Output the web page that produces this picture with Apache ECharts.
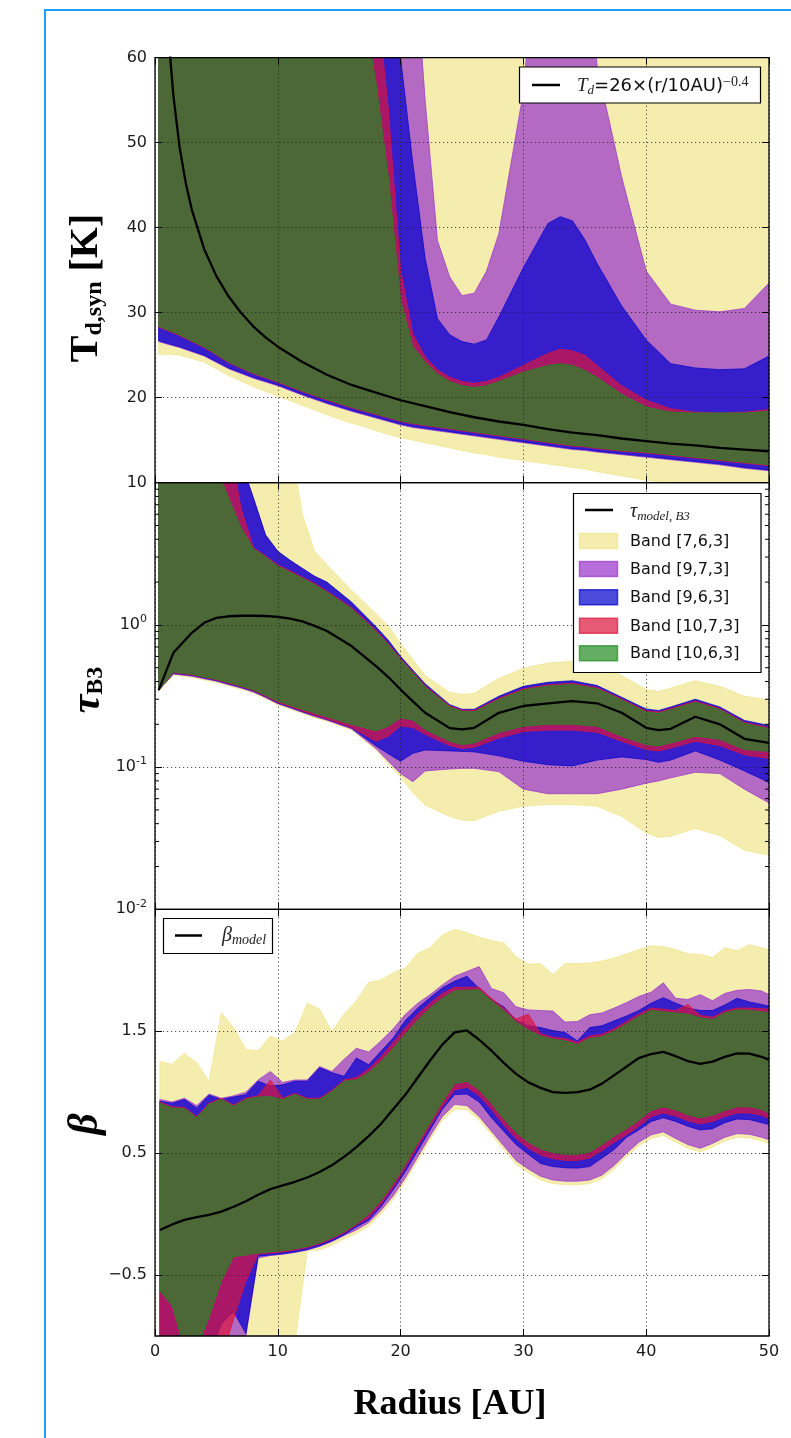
<!DOCTYPE html>
<html>
<head>
<meta charset="utf-8">
<script src="https://cdn.jsdelivr.net/npm/echarts@6.0.0/dist/echarts.min.js"></script>
<style>
  html, body { margin: 0; padding: 0; background: #fff; }
  #chart { width: 791px; height: 1438px; }
</style>
</head>
<body>
<div id="chart"></div>
<script>
// ---------------- Panel 1: synthetic dust temperature T_d,syn [K] ----------------
const R_T = [0.3, 1, 2, 4, 6, 8, 10, 12, 14, 16, 17, 18, 19, 20, 21, 22, 23, 24, 25, 26, 27, 28, 30, 32, 33, 34, 35, 36, 38, 40, 42, 44, 46, 48, 50];
const T_Y_HI = [90, 90, 90, 90, 90, 90, 90, 90, 90, 90, 90, 90, 90, 90, 90, 90, 90, 90, 90, 90, 90, 90, 90, 90, 90, 90, 90, 90, 90, 90, 90, 90, 90, 90, 90];
const T_Y_LO = [25.1, 25.1, 25.0, 24.2, 22.6, 21.3, 20.2, 19.1, 18.0, 17.0, 16.6, 16.1, 15.7, 15.3, 15.0, 14.7, 14.4, 14.1, 13.8, 13.5, 13.3, 13.0, 12.6, 12.2, 12.0, 11.8, 11.6, 11.3, 10.8, 10.3, 9.9, 9.6, 9.3, 9.1, 8.9];
const T_P_HI = [90, 90, 90, 90, 90, 90, 90, 90, 90, 90, 90, 90, 90, 90, 75, 55, 38.5, 34.2, 32.0, 32.3, 34.9, 39.3, 56, 90, 90, 90, 78, 59, 46, 34.9, 31.0, 30.3, 30.1, 30.5, 33.5];
const T_P_LO = [26.6, 26.3, 25.9, 24.9, 23.4, 22.3, 21.4, 20.3, 19.3, 18.4, 18.0, 17.6, 17.2, 16.8, 16.5, 16.3, 16.1, 15.9, 15.7, 15.5, 15.3, 15.1, 14.7, 14.3, 14.1, 13.9, 13.8, 13.6, 13.3, 13.0, 12.7, 12.4, 12.1, 11.7, 11.4];
const T_B_HI = [90, 90, 90, 90, 90, 90, 90, 90, 90, 90, 90, 90, 80, 60, 47.5, 36.4, 29.3, 27.4, 26.6, 26.3, 26.8, 29.5, 35.3, 40.5, 41.3, 40.8, 38.6, 35.8, 30.8, 26.8, 24.0, 23.5, 23.3, 23.4, 24.9];
const T_B_LO = [26.7, 26.4, 26.0, 25.0, 23.5, 22.4, 21.5, 20.4, 19.4, 18.5, 18.1, 17.7, 17.3, 16.9, 16.6, 16.4, 16.2, 16.0, 15.8, 15.6, 15.4, 15.2, 14.8, 14.4, 14.2, 14.0, 13.9, 13.7, 13.4, 13.1, 12.8, 12.5, 12.2, 11.8, 11.5];
const T_R_HI = [90, 90, 90, 90, 90, 90, 90, 90, 90, 90, 85, 68, 54, 35, 27.5, 24.8, 23.3, 22.4, 21.9, 21.7, 21.9, 22.4, 23.8, 25.2, 25.7, 25.5, 25.0, 23.8, 21.4, 19.7, 18.7, 18.3, 18.2, 18.3, 18.6];
const T_R_LO = [28.3, 27.9, 27.3, 25.9, 24.1, 22.8, 21.8, 20.7, 19.7, 18.8, 18.4, 18.0, 17.6, 17.2, 16.9, 16.7, 16.5, 16.3, 16.1, 15.9, 15.7, 15.5, 15.1, 14.7, 14.5, 14.3, 14.2, 14.0, 13.7, 13.5, 13.2, 12.9, 12.6, 12.3, 12.0];
const T_G_HI = [90, 90, 90, 90, 90, 90, 90, 90, 90, 80, 66, 57, 46, 31.5, 26.0, 24.2, 22.8, 21.9, 21.4, 21.2, 21.4, 21.9, 23.0, 23.8, 24.0, 23.8, 23.2, 22.4, 20.4, 18.9, 18.3, 18.2, 18.2, 18.2, 18.4];
const T_G_LO = [28.4, 28.0, 27.4, 26.0, 24.2, 22.9, 21.9, 20.8, 19.8, 18.9, 18.5, 18.1, 17.7, 17.3, 17.0, 16.8, 16.6, 16.4, 16.2, 16.0, 15.8, 15.6, 15.2, 14.8, 14.6, 14.4, 14.3, 14.1, 13.8, 13.6, 13.3, 13.0, 12.7, 12.4, 12.1];
// power-law reference profile
const R_TM = [1.0, 1.2, 1.5, 2, 2.5, 3, 4, 5, 6, 7, 8, 9, 10, 12, 14, 16, 18, 20, 22, 24, 26, 28, 30, 32, 34, 36, 38, 40, 42, 44, 46, 48, 50];
const T_MODEL = [65.3, 60.7, 55.5, 49.5, 45.3, 42.1, 37.5, 34.3, 31.9, 30.0, 28.4, 27.1, 26.0, 24.2, 22.7, 21.5, 20.6, 19.7, 19.0, 18.3, 17.7, 17.2, 16.8, 16.3, 15.9, 15.6, 15.2, 14.9, 14.6, 14.4, 14.1, 13.9, 13.7];

// ---------------- Panel 2: optical depth at Band 3 ----------------
const R_TAU = [0.3, 1.5, 3, 4, 5, 6, 7, 8, 9, 10, 11, 12, 13, 14, 16, 18, 19, 20, 21, 22, 24, 25, 26, 28, 30, 32, 34, 36, 38, 40, 41, 42, 44, 46, 48, 50];
const TAU_Y_HI = [20, 20, 20, 20, 20, 20, 20, 20, 20, 20, 20, 6.0, 3.3, 2.65, 1.75, 1.2, 0.98, 0.74, 0.57, 0.44, 0.335, 0.324, 0.33, 0.42, 0.495, 0.54, 0.555, 0.53, 0.44, 0.352, 0.34, 0.36, 0.405, 0.37, 0.315, 0.296];
const TAU_Y_LO = [0.341, 0.442, 0.427, 0.41, 0.394, 0.372, 0.353, 0.331, 0.303, 0.273, 0.256, 0.238, 0.222, 0.21, 0.182, 0.132, 0.105, 0.085, 0.066, 0.054, 0.045, 0.0425, 0.042, 0.049, 0.053, 0.0546, 0.0546, 0.053, 0.045, 0.0345, 0.032, 0.0326, 0.037, 0.033, 0.026, 0.024];
const TAU_P_HI = [20, 20, 20, 20, 20, 20, 13.9, 7.8, 4.25, 3.27, 2.82, 2.47, 2.18, 1.98, 1.43, 0.96, 0.77, 0.594, 0.475, 0.381, 0.272, 0.252, 0.252, 0.312, 0.366, 0.391, 0.4, 0.371, 0.307, 0.253, 0.247, 0.262, 0.297, 0.262, 0.211, 0.194];
const TAU_P_LO = [0.348, 0.451, 0.436, 0.418, 0.402, 0.38, 0.36, 0.338, 0.309, 0.279, 0.261, 0.243, 0.227, 0.214, 0.186, 0.135, 0.11, 0.09, 0.079, 0.094, 0.097, 0.098, 0.098, 0.093, 0.07, 0.065, 0.065, 0.065, 0.07, 0.077, 0.08, 0.084, 0.092, 0.09, 0.07, 0.056];
const TAU_B_HI = [20, 20, 20, 20, 20, 20, 14, 7.9, 4.3, 3.3, 2.85, 2.5, 2.2, 2.0, 1.45, 0.97, 0.78, 0.6, 0.48, 0.385, 0.275, 0.255, 0.255, 0.315, 0.37, 0.395, 0.405, 0.375, 0.31, 0.256, 0.25, 0.265, 0.3, 0.265, 0.213, 0.196];
const TAU_B_LO = [0.348, 0.456, 0.441, 0.423, 0.406, 0.384, 0.364, 0.342, 0.312, 0.282, 0.263, 0.245, 0.23, 0.216, 0.188, 0.141, 0.124, 0.11, 0.125, 0.132, 0.13, 0.129, 0.128, 0.12, 0.11, 0.104, 0.102, 0.112, 0.118, 0.113, 0.108, 0.112, 0.13, 0.112, 0.094, 0.078];
const TAU_R_HI = [20, 20, 20, 20, 20, 20, 6.7, 3.5, 3.06, 2.64, 2.4, 2.17, 1.96, 1.73, 1.33, 0.92, 0.74, 0.582, 0.469, 0.374, 0.27, 0.251, 0.25, 0.305, 0.355, 0.379, 0.389, 0.363, 0.302, 0.249, 0.244, 0.258, 0.292, 0.258, 0.207, 0.19];
const TAU_R_LO = [0.348, 0.46, 0.445, 0.427, 0.41, 0.388, 0.368, 0.345, 0.315, 0.285, 0.266, 0.248, 0.232, 0.218, 0.19, 0.152, 0.165, 0.195, 0.19, 0.17, 0.142, 0.135, 0.138, 0.16, 0.178, 0.182, 0.182, 0.176, 0.152, 0.133, 0.13, 0.136, 0.152, 0.142, 0.122, 0.115];
const TAU_G_HI = [20, 20, 20, 20, 13, 7.8, 4.85, 3.45, 3.0, 2.59, 2.35, 2.13, 1.92, 1.70, 1.30, 0.90, 0.724, 0.571, 0.46, 0.367, 0.265, 0.246, 0.245, 0.299, 0.348, 0.372, 0.381, 0.356, 0.296, 0.244, 0.239, 0.253, 0.286, 0.253, 0.203, 0.186];
const TAU_G_LO = [0.348, 0.466, 0.449, 0.43, 0.414, 0.393, 0.372, 0.35, 0.32, 0.291, 0.272, 0.255, 0.24, 0.226, 0.2, 0.18, 0.194, 0.222, 0.214, 0.184, 0.152, 0.144, 0.148, 0.175, 0.194, 0.2, 0.2, 0.194, 0.165, 0.144, 0.141, 0.148, 0.165, 0.157, 0.133, 0.129];
const TAU_MODEL = [0.348, 0.637, 0.88, 1.035, 1.12, 1.15, 1.16, 1.16, 1.155, 1.14, 1.105, 1.06, 0.985, 0.906, 0.71, 0.513, 0.43, 0.351, 0.29, 0.241, 0.188, 0.184, 0.189, 0.241, 0.269, 0.281, 0.291, 0.281, 0.241, 0.189, 0.182, 0.186, 0.226, 0.2, 0.158, 0.148];
// minor tick positions of the logarithmic axis
const TAU_MINOR_TICKS = [0.02, 0.03, 0.04, 0.05, 0.06, 0.07, 0.08, 0.09, 0.2, 0.3, 0.4, 0.5, 0.6, 0.7, 0.8, 0.9, 2, 3, 4, 5, 6, 7, 8, 9];

// ---------------- Panel 3: dust opacity index beta ----------------
const R_BETA = [0.4, 1.4, 2.4, 3.4, 4.4, 5.4, 6.4, 7.4, 8.4, 9.4, 10.4, 11.4, 12.4, 13.4, 14.4, 15.4, 16.4, 17.4, 18.4, 19.4, 20.4, 21.4, 22.4, 23.4, 24.4, 25.4, 26.4, 27.4, 28.4, 29.4, 30.4, 31.4, 32.4, 33.4, 34.4, 35.4, 36.4, 37.4, 38.4, 39.4, 40.4, 41.4, 42.4, 43.4, 44.4, 45.4, 46.4, 47.4, 48.4, 49.4, 50];
const BETA_Y_HI = [1.25, 1.23, 1.32, 1.24, 1.09, 1.65, 1.53, 1.35, 1.34, 1.46, 1.42, 1.49, 1.73, 1.68, 1.50, 1.64, 1.75, 1.90, 1.92, 1.98, 2.02, 2.14, 2.185, 2.29, 2.335, 2.31, 2.27, 2.245, 2.225, 2.11, 2.05, 2.055, 1.965, 2.055, 2.055, 2.06, 2.075, 2.10, 2.135, 2.17, 2.20, 2.195, 2.17, 2.135, 2.13, 2.105, 2.185, 2.16, 2.21, 2.185, 2.17];
const BETA_Y_LO = [-3, -3, -3, -3, -3, -3, -3, -3, -3, -3, -3, -1.05, -0.30, -0.295, -0.255, -0.205, -0.16, -0.10, 0.0, 0.12, 0.27, 0.44, 0.61, 0.77, 0.86, 0.855, 0.77, 0.65, 0.53, 0.41, 0.34, 0.28, 0.25, 0.24, 0.24, 0.25, 0.29, 0.37, 0.47, 0.56, 0.62, 0.645, 0.59, 0.54, 0.51, 0.55, 0.60, 0.63, 0.625, 0.60, 0.58];
const BETA_P_HI = [0.94, 0.92, 0.95, 0.89, 0.985, 0.95, 0.97, 1.0, 1.10, 1.17, 1.08, 1.10, 1.10, 1.21, 1.17, 1.27, 1.36, 1.33, 1.42, 1.52, 1.64, 1.73, 1.80, 1.88, 1.95, 1.99, 2.03, 1.85, 1.815, 1.70, 1.675, 1.67, 1.665, 1.575, 1.58, 1.635, 1.65, 1.69, 1.735, 1.785, 1.82, 1.897, 1.77, 1.76, 1.80, 1.75, 1.81, 1.835, 1.842, 1.83, 1.80];
const BETA_P_LO = [-1.5, -1.5, -1.5, -1.5, -1.5, -1.5, -1.5, -1.0, -0.36, -0.34, -0.33, -0.315, -0.295, -0.265, -0.225, -0.175, -0.13, -0.07, 0.03, 0.15, 0.30, 0.47, 0.64, 0.80, 0.90, 0.89, 0.80, 0.68, 0.56, 0.44, 0.37, 0.31, 0.28, 0.27, 0.27, 0.28, 0.32, 0.40, 0.50, 0.59, 0.65, 0.675, 0.62, 0.57, 0.54, 0.58, 0.63, 0.66, 0.655, 0.63, 0.61];
const BETA_B_HI = [0.925, 0.91, 0.94, 0.87, 0.975, 0.94, 0.96, 0.98, 1.09, 1.05, 1.06, 1.09, 1.09, 1.20, 1.16, 1.13, 1.28, 1.225, 1.335, 1.445, 1.59, 1.69, 1.775, 1.855, 1.91, 1.95, 1.85, 1.76, 1.70, 1.59, 1.545, 1.53, 1.505, 1.49, 1.42, 1.53, 1.545, 1.585, 1.625, 1.67, 1.73, 1.775, 1.73, 1.69, 1.67, 1.67, 1.715, 1.77, 1.74, 1.72, 1.705];
const BETA_B_LO = [-1.5, -1.5, -1.5, -1.5, -1.2, -0.9, -0.8, -0.98, -0.345, -0.335, -0.325, -0.31, -0.29, -0.26, -0.22, -0.17, -0.105, -0.05, 0.06, 0.20, 0.35, 0.52, 0.69, 0.86, 0.98, 0.985, 0.92, 0.79, 0.68, 0.57, 0.49, 0.415, 0.39, 0.38, 0.377, 0.39, 0.46, 0.53, 0.63, 0.69, 0.76, 0.79, 0.76, 0.72, 0.69, 0.70, 0.75, 0.78, 0.775, 0.75, 0.735];
const BETA_R_HI = [0.92, 0.88, 0.875, 0.80, 0.91, 0.95, 0.895, 0.95, 0.97, 1.10, 0.95, 0.99, 0.95, 0.95, 1.015, 1.10, 1.12, 1.19, 1.29, 1.41, 1.53, 1.64, 1.73, 1.81, 1.86, 1.86, 1.86, 1.77, 1.69, 1.60, 1.64, 1.48, 1.45, 1.44, 1.41, 1.46, 1.475, 1.52, 1.58, 1.64, 1.69, 1.68, 1.67, 1.72, 1.63, 1.615, 1.665, 1.69, 1.69, 1.685, 1.68];
const BETA_R_LO = [-1.5, -1.5, -1.5, -1.5, -1.4, -1.2, -0.86, -0.55, -0.33, -0.32, -0.31, -0.295, -0.275, -0.245, -0.205, -0.155, -0.09, -0.03, 0.08, 0.22, 0.38, 0.555, 0.72, 0.88, 1.02, 1.04, 0.97, 0.86, 0.73, 0.62, 0.54, 0.485, 0.455, 0.44, 0.44, 0.46, 0.52, 0.59, 0.65, 0.72, 0.80, 0.83, 0.805, 0.765, 0.74, 0.76, 0.80, 0.83, 0.83, 0.81, 0.785];
const BETA_G_HI = [0.91, 0.87, 0.865, 0.79, 0.90, 0.94, 0.885, 0.94, 0.96, 0.965, 0.94, 0.98, 0.94, 0.94, 1.005, 1.09, 1.10, 1.16, 1.25, 1.36, 1.48, 1.59, 1.69, 1.77, 1.83, 1.837, 1.84, 1.75, 1.67, 1.575, 1.51, 1.46, 1.435, 1.42, 1.39, 1.44, 1.455, 1.50, 1.56, 1.62, 1.67, 1.66, 1.65, 1.64, 1.61, 1.595, 1.65, 1.675, 1.67, 1.66, 1.65];
const BETA_G_LO = [-0.63, -0.75, -1.1, -1.1, -0.85, -0.55, -0.35, -0.335, -0.32, -0.31, -0.30, -0.285, -0.265, -0.235, -0.195, -0.145, -0.08, 0.0, 0.11, 0.25, 0.41, 0.585, 0.75, 0.92, 1.07, 1.09, 1.02, 0.91, 0.78, 0.67, 0.59, 0.535, 0.505, 0.49, 0.49, 0.51, 0.57, 0.64, 0.70, 0.77, 0.85, 0.88, 0.855, 0.815, 0.79, 0.81, 0.85, 0.88, 0.88, 0.86, 0.83];
const BETA_MODEL = [-0.13, -0.085, -0.048, -0.025, -0.007, 0.02, 0.06, 0.105, 0.158, 0.205, 0.235, 0.265, 0.30, 0.345, 0.40, 0.47, 0.55, 0.64, 0.74, 0.86, 0.98, 1.12, 1.26, 1.39, 1.49, 1.506, 1.43, 1.34, 1.24, 1.15, 1.08, 1.035, 1.0, 0.995, 1.0, 1.02, 1.07, 1.14, 1.21, 1.28, 1.313, 1.33, 1.295, 1.255, 1.232, 1.25, 1.29, 1.318, 1.316, 1.29, 1.267];
const BETA_TICKS = [-0.5, 0.5, 1.5];

// ---------------- Shared ----------------
const X_TICK_LABELS = [0, 10, 20, 30, 40, 50];
const BAND_NAMES = ['Band [7,6,3]', 'Band [9,7,3]', 'Band [9,6,3]', 'Band [10,7,3]', 'Band [10,6,3]'];
const BAND_COLORS = ['rgba(240,230,140,0.7)', 'rgba(153,50,204,0.7)', 'rgba(0,0,205,0.7)', 'rgba(220,20,60,0.7)', 'rgba(34,139,34,0.7)'];

const SANS = '"DejaVu Sans", "Noto Sans", sans-serif';
const SERIF = '"Liberation Serif", "DejaVu Serif", serif';
const PLOT = { left: 155, width: 614 };
const PANELS = [
  { top: 57.7, height: 425 },
  { top: 482.7, height: 426.6 },
  { top: 909.3, height: 426.7 }
];

// filled envelope between a lower and an upper boundary
function band(name, color, xs, lo, hi, gi) {
  return {
    type: 'custom', name: name, xAxisIndex: gi, yAxisIndex: gi,
    clip: true, silent: true, z: 2,
    data: [[xs[0], lo[0]]],
    renderItem: function (params, api) {
      const pts = [];
      for (let i = 0; i < xs.length; i++) pts.push(api.coord([xs[i], hi[i]]));
      for (let i = xs.length - 1; i >= 0; i--) pts.push(api.coord([xs[i], lo[i]]));
      return { type: 'polygon', shape: { points: pts }, style: { fill: color, stroke: color, lineWidth: 1 } };
    }
  };
}
function modelLine(name, xs, ys, gi) {
  return {
    type: 'line', name: name, xAxisIndex: gi, yAxisIndex: gi, clip: true, z: 4,
    symbol: 'none', showSymbol: false, silent: true,
    lineStyle: { color: '#000', width: 2.3 },
    data: xs.map((x, i) => [x, ys[i]])
  };
}

const tickStyle = { color: '#000', width: 1 };
const gridLine = { show: true, lineStyle: { color: '#222', width: 0.8, type: [1.2, 2.8] } };
const labelBase = { fontSize: 16, fontFamily: SANS, color: '#1a1a1a' };
const noLine = { show: false, onZero: false };

function xAxisFor(gi, showLabels) {
  return {
    type: 'value', gridIndex: gi, min: 0, max: 50, interval: 10, position: 'bottom', z: 3,
    axisLine: noLine,
    axisTick: { show: true, inside: true, length: 7, lineStyle: tickStyle },
    axisLabel: Object.assign({ show: showLabels, margin: 8, customValues: X_TICK_LABELS }, labelBase),
    splitLine: gridLine
  };
}
function xTopFor(gi) {
  return {
    type: 'value', gridIndex: gi, min: 0, max: 50, interval: 10, position: 'top', z: 3,
    axisLine: noLine, axisLabel: { show: false }, splitLine: { show: false },
    axisTick: { show: true, inside: true, length: 7, lineStyle: tickStyle }
  };
}

const supRich = { sup: { fontSize: 11, fontFamily: SANS, color: '#1a1a1a', verticalAlign: 'top', lineHeight: 10 } };

const yAxes = [
  {
    type: 'value', gridIndex: 0, min: 10, max: 60, interval: 10, z: 3,
    axisLine: noLine,
    axisTick: { show: true, inside: true, length: 7, lineStyle: tickStyle },
    axisLabel: Object.assign({ margin: 8 }, labelBase),
    splitLine: gridLine
  },
  {
    type: 'log', logBase: 10, gridIndex: 1, min: 0.01, max: 10, z: 3,
    axisLine: noLine,
    axisTick: { show: true, inside: true, length: 7, lineStyle: tickStyle },
    axisLabel: Object.assign({
      margin: 8, lineHeight: 22, rich: supRich,
      formatter: function (v) {
        const e = Math.round(Math.log10(v));
        if (e >= 1) return '';
        return '10{sup|' + e + '}';
      }
    }, labelBase),
    splitLine: gridLine
  },
  {
    type: 'value', gridIndex: 2, min: -1, max: 2.5, z: 3,
    axisLine: noLine,
    axisTick: { show: true, inside: true, length: 7, lineStyle: tickStyle, customValues: BETA_TICKS },
    axisLabel: Object.assign({
      margin: 8, customValues: BETA_TICKS,
      formatter: function (v) { return v < 0 ? '\u2212' + Math.abs(v) : String(v); }
    }, labelBase),
    splitLine: gridLine
  },
  // mirrored ticks on the right-hand spines
  {
    type: 'value', gridIndex: 0, min: 10, max: 60, interval: 10, position: 'right', z: 3,
    axisLine: noLine, axisLabel: { show: false }, splitLine: { show: false },
    axisTick: { show: true, inside: true, length: 7, lineStyle: tickStyle }
  },
  {
    type: 'log', logBase: 10, gridIndex: 1, min: 0.01, max: 10, position: 'right', z: 3,
    axisLine: noLine, axisLabel: { show: false }, splitLine: { show: false },
    axisTick: { show: true, inside: true, length: 7, lineStyle: tickStyle }
  },
  {
    type: 'value', gridIndex: 2, min: -1, max: 2.5, position: 'right', z: 3,
    axisLine: noLine, axisLabel: { show: false, customValues: BETA_TICKS }, splitLine: { show: false },
    axisTick: { show: true, inside: true, length: 7, lineStyle: tickStyle, customValues: BETA_TICKS }
  }
];

const series = [];
const panelBands = [
  [R_T, [[T_Y_LO, T_Y_HI], [T_P_LO, T_P_HI], [T_B_LO, T_B_HI], [T_R_LO, T_R_HI], [T_G_LO, T_G_HI]]],
  [R_TAU, [[TAU_Y_LO, TAU_Y_HI], [TAU_P_LO, TAU_P_HI], [TAU_B_LO, TAU_B_HI], [TAU_R_LO, TAU_R_HI], [TAU_G_LO, TAU_G_HI]]],
  [R_BETA, [[BETA_Y_LO, BETA_Y_HI], [BETA_P_LO, BETA_P_HI], [BETA_B_LO, BETA_B_HI], [BETA_R_LO, BETA_R_HI], [BETA_G_LO, BETA_G_HI]]]
];
panelBands.forEach(function (p, gi) {
  p[1].forEach(function (b, k) {
    series.push(band(BAND_NAMES[k], BAND_COLORS[k], p[0], b[0], b[1], gi));
  });
});
series.push(modelLine('T_d model', R_TM, T_MODEL, 0));
series.push(modelLine('tau model', R_TAU, TAU_MODEL, 1));
series.push(modelLine('beta model', R_BETA, BETA_MODEL, 2));
// minor ticks of the log axis, on both vertical spines
series.push({
  type: 'custom', name: 'minor ticks', xAxisIndex: 1, yAxisIndex: 1, silent: true, z: 5,
  data: TAU_MINOR_TICKS.map(v => [0, v]),
  renderItem: function (params, api) {
    const l = api.coord([0, api.value(1)]);
    const r = api.coord([50, api.value(1)]);
    return {
      type: 'group', children: [
        { type: 'line', shape: { x1: l[0], y1: l[1], x2: l[0] + 4, y2: l[1] }, style: { stroke: '#000', lineWidth: 1 } },
        { type: 'line', shape: { x1: r[0] - 4, y1: r[1], x2: r[0], y2: r[1] }, style: { stroke: '#000', lineWidth: 1 } }
      ]
    };
  }
});

// ---------------- Text, titles, legend boxes ----------------
const mathRich = function (big, small, sans, sup) {
  return {
    it: { font: 'italic ' + big + 'px ' + SERIF, fill: '#222', lineHeight: 22 },
    sub: { font: 'italic ' + small + 'px ' + SERIF, fill: '#222', lineHeight: 12, verticalAlign: 'bottom' },
    n: { font: sans + 'px ' + SANS, fill: '#111', lineHeight: 22 },
    sup: { font: sup + 'px ' + SERIF, fill: '#222', lineHeight: 10, verticalAlign: 'top' }
  };
};
const graphics = [
  { type: 'rect', z: 100, silent: true, shape: { x: 45, y: 10, width: 800, height: 1500 }, style: { fill: 'none', stroke: '#1ba1f2', lineWidth: 2 } },
  // axis titles
  {
    type: 'text', z: 100, x: 87, y: 288, rotation: Math.PI / 2,
    style: {
      text: '{m|T}{s|d,syn}{m| [K]}', align: 'center', verticalAlign: 'middle',
      rich: {
        m: { font: 'bold 40px ' + SERIF, fill: '#000', lineHeight: 40 },
        s: { font: 'bold 24px ' + SERIF, fill: '#000', lineHeight: 14, verticalAlign: 'bottom' }
      }
    }
  },
  {
    type: 'text', z: 100, x: 88, y: 690, rotation: Math.PI / 2,
    style: {
      text: '{m|\u03C4}{s|B3}', align: 'center', verticalAlign: 'middle',
      rich: {
        m: { font: 'bold italic 42px ' + SERIF, fill: '#000', lineHeight: 40 },
        s: { font: 'bold 24px ' + SERIF, fill: '#000', lineHeight: 14, verticalAlign: 'bottom' }
      }
    }
  },
  {
    type: 'text', z: 100, x: 86, y: 1124, rotation: Math.PI / 2,
    style: { text: '\u03B2', font: 'bold italic 42px ' + SERIF, fill: '#000', align: 'center', verticalAlign: 'middle' }
  },
  {
    type: 'text', z: 100, x: 450, y: 1405,
    style: { text: 'Radius [AU]', font: 'bold 36px ' + SERIF, fill: '#000', align: 'center', verticalAlign: 'middle' }
  },
  // legend: temperature panel
  { type: 'rect', z: 100, shape: { x: 519.5, y: 67, width: 241, height: 36 }, style: { fill: '#fff', stroke: '#000', lineWidth: 1.2 } },
  { type: 'line', z: 101, shape: { x1: 532, y1: 85, x2: 560, y2: 85 }, style: { stroke: '#000', lineWidth: 2.5 } },
  {
    type: 'text', z: 101, x: 577, y: 86,
    style: { text: '{it|T}{sub|d}{n|=26\u00D7(r/10AU)}{sup|\u22120.4}', align: 'left', verticalAlign: 'middle', rich: mathRich(19, 13, 18, 14) }
  },
  // legend: optical depth panel (band key)
  { type: 'rect', z: 100, shape: { x: 573.5, y: 493.5, width: 187.5, height: 179 }, style: { fill: '#fff', stroke: '#000', lineWidth: 1.2 } },
  { type: 'line', z: 101, shape: { x1: 585, y1: 510, x2: 613, y2: 510 }, style: { stroke: '#000', lineWidth: 2.5 } },
  {
    type: 'text', z: 101, x: 630, y: 512,
    style: { text: '{it|\u03C4}{sub|model, B3}', align: 'left', verticalAlign: 'middle', rich: mathRich(20, 13, 17, 12) }
  },
  // legend: beta panel
  { type: 'rect', z: 100, shape: { x: 163.5, y: 918.5, width: 109, height: 35 }, style: { fill: '#fff', stroke: '#000', lineWidth: 1.2 } },
  { type: 'line', z: 101, shape: { x1: 175, y1: 935.5, x2: 202, y2: 935.5 }, style: { stroke: '#000', lineWidth: 2.5 } },
  {
    type: 'text', z: 101, x: 222, y: 936,
    style: { text: '{it|\u03B2}{sub|model}', align: 'left', verticalAlign: 'middle', rich: mathRich(20, 14, 17, 12) }
  }
];
const LEGEND_ROWS = [541, 569, 597.3, 625.7, 653.3];
BAND_NAMES.forEach(function (name, k) {
  graphics.push({ type: 'rect', z: 101, shape: { x: 579.5, y: LEGEND_ROWS[k] - 7.5, width: 38, height: 15 }, style: { fill: BAND_COLORS[k], stroke: BAND_COLORS[k], lineWidth: 1.5 } });
  graphics.push({ type: 'text', z: 101, x: 630, y: LEGEND_ROWS[k] + 1, style: { text: name, font: '16px ' + SANS, fill: '#111', align: 'left', verticalAlign: 'middle' } });
});

const option = {
  animation: false,
  backgroundColor: '#fff',
  grid: PANELS.map(p => ({
    left: PLOT.left, width: PLOT.width, top: p.top, height: p.height,
    show: true, borderColor: '#000', borderWidth: 1.3, backgroundColor: 'transparent',
    z: 6, outerBoundsMode: 'none', containLabel: false
  })),
  xAxis: [xAxisFor(0, false), xAxisFor(1, false), xAxisFor(2, true), xTopFor(0), xTopFor(1), xTopFor(2)],
  yAxis: yAxes,
  series: series,
  graphic: { elements: graphics }
};

const chart = echarts.init(document.getElementById('chart'), null, { renderer: 'canvas' });
chart.setOption(option);
</script>
</body>
</html>
